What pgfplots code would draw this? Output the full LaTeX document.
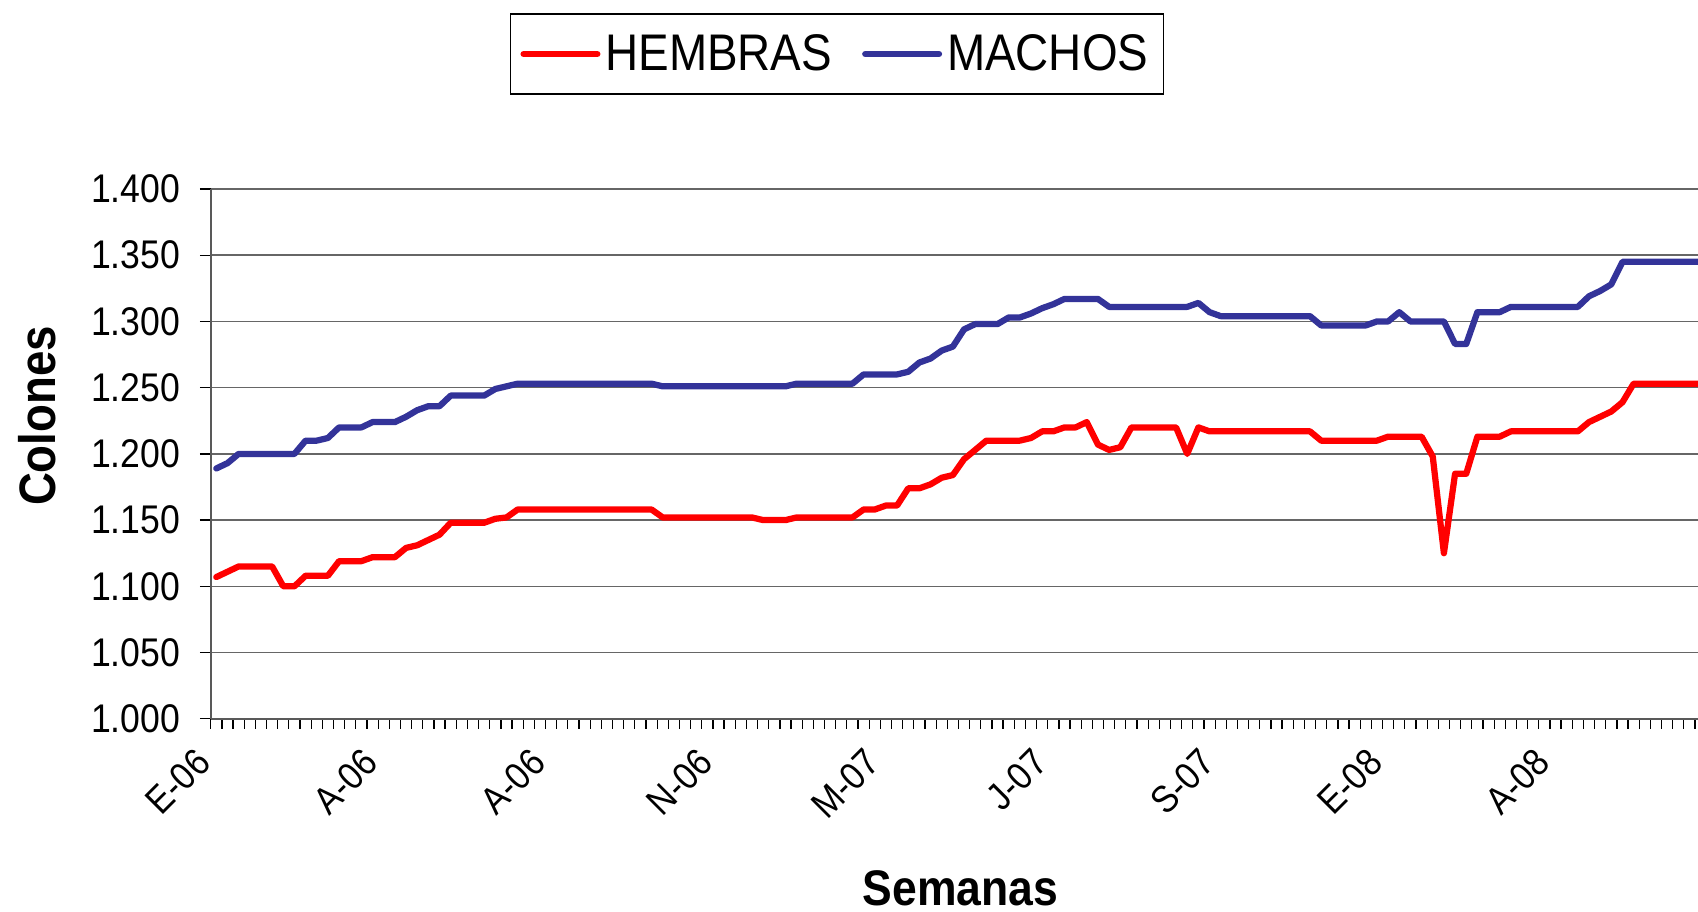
\documentclass[border=0pt]{standalone}
\usepackage{fontspec}
\setmainfont{Liberation Sans}[FakeStretch=0.89]
\usepackage{pgfplots}
\usepackage{pgfplotstable}
\pgfplotsset{compat=1.18}
\definecolor{hred}{RGB}{255,0,0}
\definecolor{mblue}{RGB}{51,51,153}
\pgfplotstableread{
x h m
0 1107 1189
1 1111 1193
2 1115 1200
3 1115 1200
4 1115 1200
5 1115 1200
6 1100 1200
7 1100 1200
8 1108 1210
9 1108 1210
10 1108 1212
11 1119 1220
12 1119 1220
13 1119 1220
14 1122 1224
15 1122 1224
16 1122 1224
17 1129 1228
18 1131 1233
19 1135 1236
20 1139 1236
21 1148 1244
22 1148 1244
23 1148 1244
24 1148 1244
25 1151 1249
26 1152 1251
27 1158 1253
28 1158 1253
29 1158 1253
30 1158 1253
31 1158 1253
32 1158 1253
33 1158 1253
34 1158 1253
35 1158 1253
36 1158 1253
37 1158 1253
38 1158 1253
39 1158 1253
40 1152 1251
41 1152 1251
42 1152 1251
43 1152 1251
44 1152 1251
45 1152 1251
46 1152 1251
47 1152 1251
48 1152 1251
49 1150 1251
50 1150 1251
51 1150 1251
52 1152 1253
53 1152 1253
54 1152 1253
55 1152 1253
56 1152 1253
57 1152 1253
58 1158 1260
59 1158 1260
60 1161 1260
61 1161 1260
62 1174 1262
63 1174 1269
64 1177 1272
65 1182 1278
66 1184 1281
67 1196 1294
68 1203 1298
69 1210 1298
70 1210 1298
71 1210 1303
72 1210 1303
73 1212 1306
74 1217 1310
75 1217 1313
76 1220 1317
77 1220 1317
78 1224 1317
79 1207 1317
80 1203 1311
81 1205 1311
82 1220 1311
83 1220 1311
84 1220 1311
85 1220 1311
86 1220 1311
87 1200 1311
88 1220 1314
89 1217 1307
90 1217 1304
91 1217 1304
92 1217 1304
93 1217 1304
94 1217 1304
95 1217 1304
96 1217 1304
97 1217 1304
98 1217 1304
99 1210 1297
100 1210 1297
101 1210 1297
102 1210 1297
103 1210 1297
104 1210 1300
105 1213 1300
106 1213 1307
107 1213 1300
108 1213 1300
109 1198 1300
110 1125 1300
111 1185 1283
112 1185 1283
113 1213 1307
114 1213 1307
115 1213 1307
116 1217 1311
117 1217 1311
118 1217 1311
119 1217 1311
120 1217 1311
121 1217 1311
122 1217 1311
123 1224 1319
124 1228 1323
125 1232 1328
126 1239 1345
127 1253 1345
128 1253 1345
129 1253 1345
130 1253 1345
131 1253 1345
132 1253 1345
133 1253 1345
}\datatable
\begin{document}
\begin{tikzpicture}
\begin{axis}[
  at={(84.3pt,76.9pt)}, anchor=south west,
  width=594.9pt, height=211.9pt, scale only axis,
  xmin=-0.5, xmax=132.77,
  ymin=1000, ymax=1400,
  axis lines=left,
  axis line style={-, draw=black!65, line width=0.9pt},
  ytick={1000,1050,...,1400},
  scaled y ticks=false,
  /pgf/number format/assume math mode=true,
  yticklabel style={/pgf/number format/.cd, fixed, precision=0, 1000 sep={.}, /tikz/.cd, xshift=-4.3pt, font=\fontsize{16pt}{19pt}\selectfont},
  xtick={0,15,...,120},
  xticklabels={E-06,A-06,A-06,N-06,M-07,J-07,S-07,E-08,A-08},
  minor xtick={-0.5,0.5,...,132.5},
  tick align=outside,
  major tick length=4.4pt,
  minor tick length=4pt,
  major x tick style={draw=none},
  minor x tick style={black, line width=0.5pt},
  major y tick style={black, line width=0.5pt},
  ymajorgrids,
  grid style={black!60, line width=0.6pt},
  xticklabel style={font=\fontsize{15.3pt}{18pt}\selectfont, xshift=-9pt, yshift=-5pt, rotate=45, anchor=north east, inner sep=1pt},
  xlabel={Semanas},
  ylabel={Colones},
  xlabel style={at={(axis description cs:0.504,-0.3195)}, anchor=center, font=\bfseries\fontsize{20pt}{24pt}\selectfont},
  ylabel style={at={(axis description cs:-0.117,0.5715)}, anchor=center, font=\bfseries\fontsize{20.5pt}{24pt}\selectfont},
  legend style={at={(axis description cs:0.421,1.2548)}, anchor=center, draw=black, line width=0.6pt,
    font=\fontsize{20.6pt}{24pt}\selectfont, inner xsep=4pt, inner ysep=6pt,
    /tikz/every even column/.append style={column sep=10pt}},
  legend columns=2,
  legend image code/.code={\draw[#1] (0pt,0pt) -- (29.5pt,0pt);},
]
\addplot[hred, line width=2.5pt, line join=round, line cap=round] table[x=x, y=h] {\datatable};
\addlegendentry{HEMBRAS}
\addplot[mblue, line width=2.5pt, line join=round, line cap=round] table[x=x, y=m] {\datatable};
\addlegendentry{MACHOS}
\end{axis}
\pgfresetboundingbox
\path[use as bounding box] (0,0) rectangle (679.2pt,364.4pt);
\end{tikzpicture}
\end{document}
